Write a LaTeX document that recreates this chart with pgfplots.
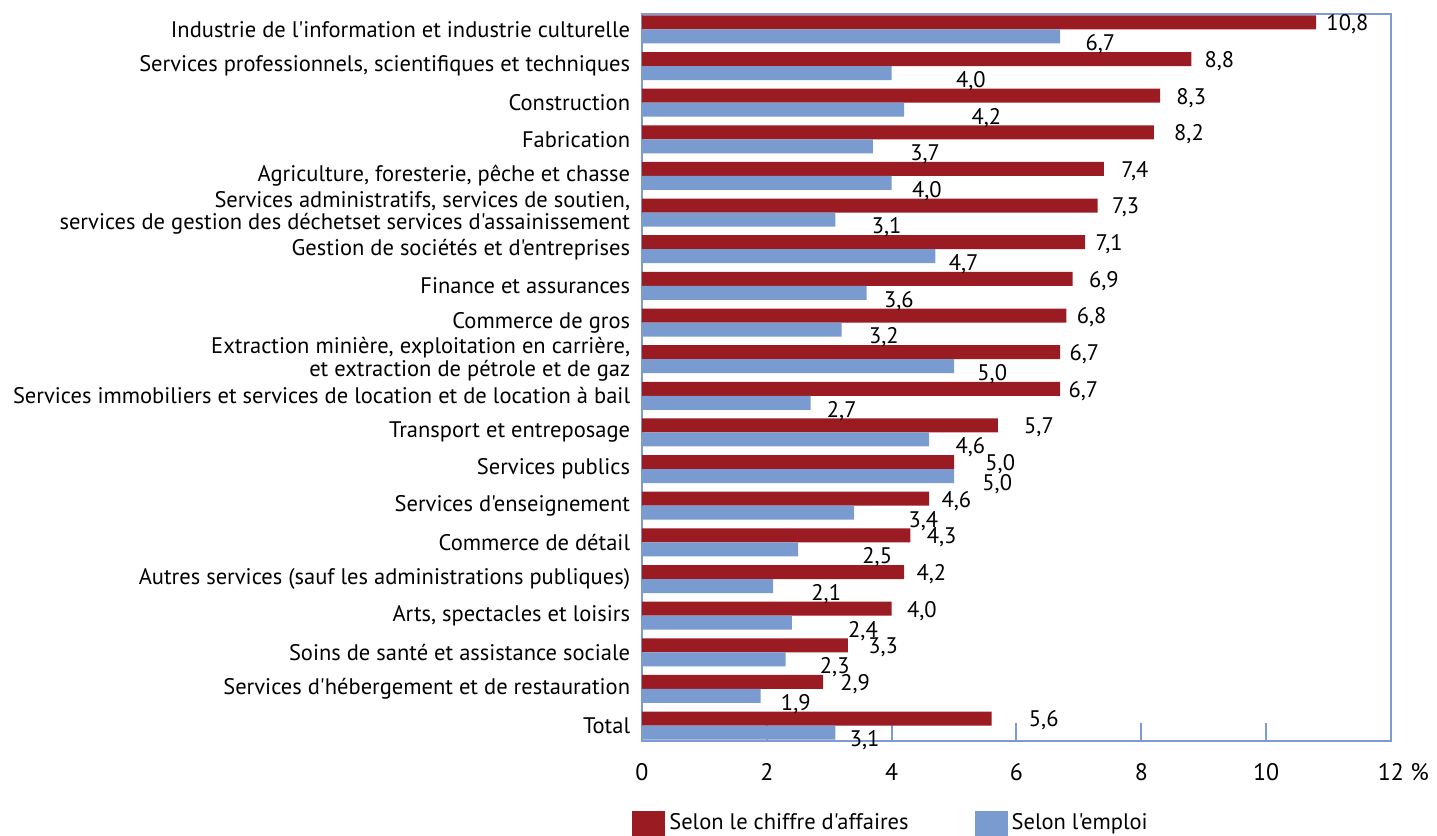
\documentclass[border=0pt]{standalone}
\usepackage{fontspec}
\setmainfont{PT Sans}[Ligatures=TeXOff]
\usepackage{pgfplots}
\usepackage{pgfplotstable}
\pgfplotsset{compat=1.18}
\definecolor{cred}{RGB}{155,27,35}
\definecolor{cblue}{RGB}{122,155,208}
\definecolor{caxis}{RGB}{125,155,210}
% y: 0 = Total (bottom) ... 19 = Industrie (top); dx = label offset in bp
\pgfplotstableread{
x    y   dx
5.6  0   18.5
2.9  1   8.5
3.3  2   10
4.0  3   7.5
4.2  4   6
4.3  5   8
4.6  6   6
5.0  7   15.5
5.7  8   13
6.7  9   4
6.7  10  4.5
6.8  11  5
6.9  12  8
7.1  13  5
7.3  14  7
7.4  15  8.5
8.2  16  10
8.3  17  8
8.8  18  6.5
10.8 19  5
}\chiffre
\pgfplotstableread{
x    y   dx
3.1  0   7
1.9  1   10
2.3  2   17
2.4  3   28
2.1  4   19
2.5  5   32
3.4  6   27
5.0  7   14
4.6  8   13
2.7  9   8
5.0  10  11.5
3.2  11  13.5
3.6  12  8.5
4.7  13  6.5
3.1  14  18
4.0  15  10
3.7  16  18.5
4.2  17  33.5
4.0  18  32
6.7  19  12.5
}\emploi
\begin{document}
\fontsize{11.3}{8.5}\selectfont
\begin{tikzpicture}
\begin{axis}[
  name=ax,
  scale only axis,
  width=374.5bp, height=363.5bp,
  xbar, bar width=7bp,
  xmin=0, xmax=12, ymin=-0.42, ymax=19.42,
  xtick={0,2,...,12},
  xticklabels={0,2,4,6,8,10,12\rlap{ \%}},
  ytick={0,...,19},
  yticklabels={
    Total,
    Services d'hébergement et de restauration,
    Soins de santé et assistance sociale,
    {Arts, spectacles et loisirs},
    Autres services (sauf les administrations publiques),
    Commerce de détail,
    Services d'enseignement,
    Services publics,
    Transport et entreposage,
    Services immobiliers et services de location et de location à bail,
    {Extraction minière, exploitation en carrière,\\et extraction de pétrole et de gaz},
    Commerce de gros,
    Finance et assurances,
    Gestion de sociétés et d'entreprises,
    {Services administratifs, services de soutien,\\services de gestion des déchetset services d'assainissement},
    {Agriculture, foresterie, pêche et chasse},
    Fabrication,
    Construction,
    {Services professionnels, scientifiques et techniques},
    Industrie de l'information et industrie culturelle},
  yticklabel style={align=right, font=\fontsize{11.3}{8.5}\selectfont, xshift=-2bp},
  xticklabel style={font=\fontsize{12}{12}\selectfont, yshift=-7.5bp},
  /pgf/number format/assume math mode=true,
  axis line style={caxis, line width=1bp},
  every tick/.style={caxis, line width=1bp},
  major tick length=9bp,
  tick align=inside,
  xtick pos=bottom,
  ytick style={draw=none},
  legend style={draw=none, fill=none, legend columns=2, inner sep=0pt,
    at={(rel axis cs:-0.0134,-0.1135)}, anchor=west,
    font=\fontsize{11.3}{12}\selectfont,
    /tikz/every even column/.append style={column sep=31bp}},
  legend cell align=left,
  legend image code/.code={\fill[#1,draw=none] (0bp,-6.25bp) rectangle (16.5bp,6.25bp);},
  nodes near coords={\pgfmathprintnumber[fixed,fixed zerofill,precision=1,use comma]{\pgfplotspointmeta}},
  nodes near coords style={font=\fontsize{11.3}{12}\selectfont, text=black},
  visualization depends on={\thisrow{dx} \as \dx},
]
\addplot+[fill=cred, draw=none, bar shift=3.5bp,
  nodes near coords style={anchor=west, inner sep=0pt, xshift=\dx*1bp, yshift=-1bp}]
  table[x=x, y=y] {\chiffre};
\addplot+[fill=cblue, draw=none, bar shift=-3.5bp,
  nodes near coords style={anchor=west, inner sep=0pt, xshift=\dx*1bp, yshift=-4bp}]
  table[x=x, y=y] {\emploi};
\legend{Selon le chiffre d'affaires, Selon l'emploi}
\end{axis}
\pgfresetboundingbox
\path ([shift={(-321bp,-47.5bp)}]ax.south west) rectangle ([shift={(23bp,7bp)}]ax.north east);
\end{tikzpicture}
\end{document}
